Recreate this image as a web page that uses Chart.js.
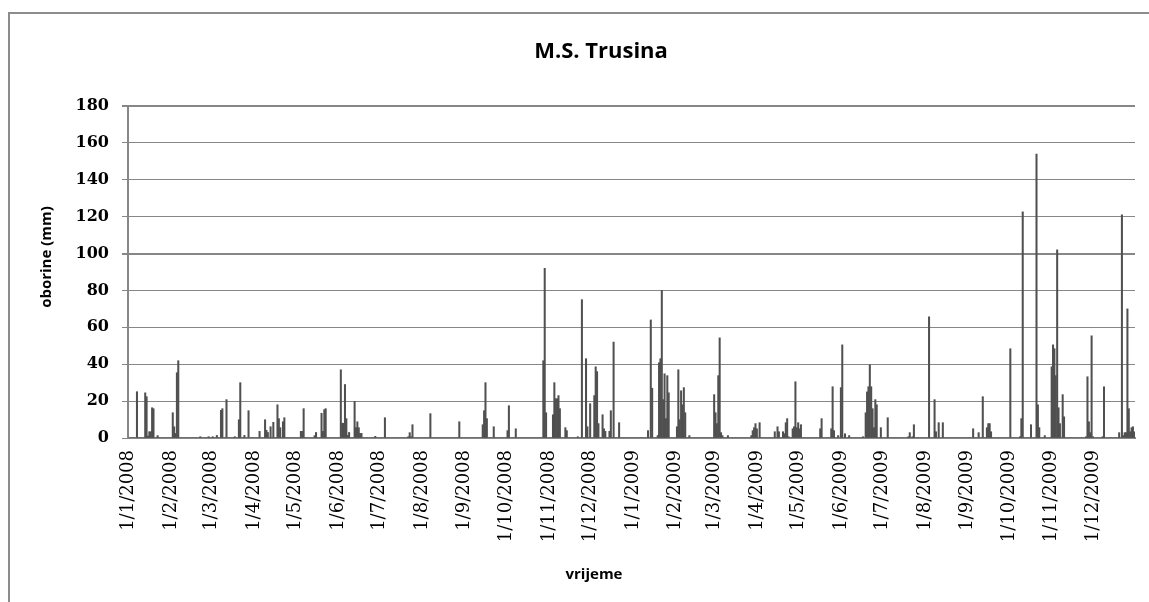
<!DOCTYPE html>
<html>
<head>
<meta charset="utf-8">
<title>M.S. Trusina – dnevne oborine 2008–2009</title>
<script src="https://cdn.jsdelivr.net/npm/chart.js@4.4.1/dist/chart.umd.min.js"></script>
<style>
  html, body { margin: 0; padding: 0; background: #ffffff; }
  canvas { display: block; }
</style>
</head>
<body>
<canvas id="chart" width="1149" height="602"></canvas>
<script>
// ---- text ----
const chartTitle = 'M.S. Trusina';
const yAxisTitle = 'oborine (mm)';
const xAxisTitle = 'vrijeme';

// ---- observation period (one bar per day) ----
const periodStart = '2008-01-01';
const periodEnd = '2009-12-31';

// ---- axis ticks ----
const monthTicks = [
  '1/1/2008', '1/2/2008', '1/3/2008', '1/4/2008', '1/5/2008', '1/6/2008',
  '1/7/2008', '1/8/2008', '1/9/2008', '1/10/2008', '1/11/2008', '1/12/2008',
  '1/1/2009', '1/2/2009', '1/3/2009', '1/4/2009', '1/5/2009', '1/6/2009',
  '1/7/2009', '1/8/2009', '1/9/2009', '1/10/2009', '1/11/2009', '1/12/2009'
];
const yTicks = [0, 20, 40, 60, 80, 100, 120, 140, 160, 180];

// ---- days with precipitation, 2008 (all other days: 0 mm) ----
const wetDays2008 = [
  '2008-01-07', '2008-01-13', '2008-01-14', '2008-01-15', '2008-01-16', '2008-01-17', '2008-01-18', '2008-01-19', '2008-01-22',
  '2008-02-02', '2008-02-03', '2008-02-04', '2008-02-05', '2008-02-06', '2008-02-22', '2008-02-28',
  '2008-03-02', '2008-03-05', '2008-03-08', '2008-03-09', '2008-03-12', '2008-03-18', '2008-03-21', '2008-03-22', '2008-03-25', '2008-03-28',
  '2008-04-05', '2008-04-09', '2008-04-10', '2008-04-11', '2008-04-13', '2008-04-15', '2008-04-18', '2008-04-19', '2008-04-20', '2008-04-22', '2008-04-23',
  '2008-05-05', '2008-05-06', '2008-05-07', '2008-05-15', '2008-05-16', '2008-05-20', '2008-05-21', '2008-05-22', '2008-05-23',
  '2008-06-03', '2008-06-04', '2008-06-05', '2008-06-06', '2008-06-07', '2008-06-08', '2008-06-09', '2008-06-13', '2008-06-14', '2008-06-15', '2008-06-16', '2008-06-17', '2008-06-18', '2008-06-28',
  '2008-07-05', '2008-07-22', '2008-07-23', '2008-07-24', '2008-07-25',
  '2008-08-07', '2008-08-28',
  '2008-09-14', '2008-09-15', '2008-09-16', '2008-09-17', '2008-09-22',
  '2008-10-02', '2008-10-03', '2008-10-08', '2008-10-28', '2008-10-29', '2008-10-30',
  '2008-11-04', '2008-11-05', '2008-11-06', '2008-11-07', '2008-11-08', '2008-11-09', '2008-11-13', '2008-11-14', '2008-11-22', '2008-11-25', '2008-11-28', '2008-11-29',
  '2008-12-01', '2008-12-04', '2008-12-05', '2008-12-06', '2008-12-07', '2008-12-10', '2008-12-11', '2008-12-12', '2008-12-15', '2008-12-16', '2008-12-18', '2008-12-22'
];
const wetMm2008 = [
  25.1, 24.5, 22.4, 1.0, 3.4, 3.4, 16.4, 15.9, 1.3,
  13.7, 6.1, 2.5, 35.4, 41.9, 0.7, 0.7,
  0.7, 1.4, 15.0, 15.9, 20.8, 0.7, 9.9, 30.0, 1.4, 14.8,
  3.6, 9.9, 4.2, 3.0, 6.1, 8.5, 18.0, 10.5, 5.6, 8.8, 11.0,
  3.6, 3.6, 15.9, 1.3, 3.0, 13.4, 3.6, 15.4, 15.9,
  37.0, 8.0, 8.0, 29.0, 10.5, 1.4, 3.0, 19.9, 5.6, 8.8, 5.6, 2.5, 2.5, 0.9,
  11.0, 0.7, 2.9, 0.7, 7.2,
  13.2, 8.8,
  7.2, 14.8, 30.0, 10.5, 6.1,
  4.0, 17.5, 5.0, 41.9, 92.0, 13.7,
  12.6, 30.0, 21.3, 21.3, 23.0, 15.9, 5.6, 4.0, 0.7, 75.0, 43.0, 6.1,
  18.6, 23.0, 38.6, 36.0, 7.8, 12.6, 5.0, 3.6, 3.6, 14.8, 52.0, 8.3
];

// ---- days with precipitation, 2009 ----
const wetDays2009 = [
  '2009-01-12', '2009-01-14', '2009-01-15', '2009-01-19', '2009-01-20', '2009-01-21', '2009-01-22', '2009-01-23', '2009-01-24', '2009-01-25', '2009-01-26', '2009-01-27',
  '2009-02-02', '2009-02-03', '2009-02-04', '2009-02-05', '2009-02-06', '2009-02-07', '2009-02-08', '2009-02-11',
  '2009-03-01', '2009-03-02', '2009-03-03', '2009-03-04', '2009-03-05', '2009-03-06', '2009-03-07', '2009-03-11', '2009-03-28', '2009-03-29', '2009-03-30', '2009-03-31',
  '2009-04-01', '2009-04-03', '2009-04-14', '2009-04-16', '2009-04-17', '2009-04-20', '2009-04-21', '2009-04-22', '2009-04-23', '2009-04-24', '2009-04-27', '2009-04-28', '2009-04-29', '2009-04-30',
  '2009-05-01', '2009-05-02', '2009-05-03', '2009-05-17', '2009-05-18', '2009-05-25', '2009-05-26', '2009-05-27', '2009-05-30',
  '2009-06-01', '2009-06-02', '2009-06-04', '2009-06-07', '2009-06-17', '2009-06-19', '2009-06-20', '2009-06-21', '2009-06-22', '2009-06-23', '2009-06-24', '2009-06-25', '2009-06-26', '2009-06-27', '2009-06-30',
  '2009-07-05', '2009-07-20', '2009-07-21', '2009-07-23', '2009-07-24',
  '2009-08-04', '2009-08-08', '2009-08-09', '2009-08-11', '2009-08-14',
  '2009-09-05', '2009-09-09', '2009-09-12', '2009-09-15', '2009-09-16', '2009-09-17', '2009-09-18',
  '2009-10-02', '2009-10-09', '2009-10-10', '2009-10-11', '2009-10-17', '2009-10-21', '2009-10-22', '2009-10-23', '2009-10-27',
  '2009-11-01', '2009-11-02', '2009-11-03', '2009-11-04', '2009-11-05', '2009-11-06', '2009-11-07', '2009-11-09', '2009-11-10', '2009-11-26', '2009-11-27', '2009-11-28', '2009-11-29', '2009-11-30',
  '2009-12-01', '2009-12-08', '2009-12-09', '2009-12-20', '2009-12-22', '2009-12-23', '2009-12-24', '2009-12-25', '2009-12-26', '2009-12-27', '2009-12-28', '2009-12-29', '2009-12-30', '2009-12-31'
];
const wetMm2009 = [
  4.0, 64.0, 27.0, 1.3, 40.8, 43.0, 80.0, 20.8, 34.8, 10.5, 33.8, 24.5,
  6.1, 37.0, 9.9, 25.6, 18.0, 27.3, 13.7, 1.3,
  23.5, 13.7, 7.8, 33.8, 54.3, 2.9, 1.3, 1.3, 1.3, 4.0, 5.6, 7.8,
  5.0, 8.3, 3.4, 6.1, 3.4, 3.4, 2.3, 8.3, 10.5, 0.7, 5.0, 6.1, 30.5, 5.6,
  8.3, 5.0, 7.2, 5.0, 10.5, 5.0, 27.8, 4.0, 1.3,
  27.3, 50.5, 2.3, 1.3, 0.7, 13.7, 25.0, 27.8, 39.7, 27.8, 15.9, 5.6, 20.8, 18.0, 5.6,
  11.0, 0.7, 2.9, 0.7, 7.2,
  65.7, 20.8, 3.4, 8.3, 8.3,
  5.0, 2.9, 22.4, 5.6, 7.8, 7.8, 3.4,
  48.4, 0.7, 10.5, 122.6, 7.2, 154.0, 18.0, 5.6, 1.3,
  38.6, 50.5, 48.4, 33.8, 102.0, 16.4, 7.8, 23.5, 11.5, 0.7, 33.2, 8.8, 2.9, 55.4,
  0.7, 0.7, 27.8, 2.9, 121.0, 1.3, 2.9, 2.9, 70.0, 15.9, 3.4, 5.6, 6.1, 3.4
];

// ---- daily category table built from the lists above ----
const wetByDate = new Map();
wetDays2008.forEach((d, i) => wetByDate.set(d, wetMm2008[i]));
wetDays2009.forEach((d, i) => wetByDate.set(d, wetMm2009[i]));

const dayLabels = [];
const dailyMm = [];
for (let t = new Date(periodStart + 'T00:00:00Z'); t <= new Date(periodEnd + 'T00:00:00Z'); t.setUTCDate(t.getUTCDate() + 1)) {
  const iso = t.toISOString().slice(0, 10);
  dayLabels.push(t.getUTCDate() + '/' + (t.getUTCMonth() + 1) + '/' + t.getUTCFullYear());
  dailyMm.push(wetByDate.has(iso) ? wetByDate.get(iso) : 0);
}

// ---- styling ----
const axisGray = '#878787';
const barGray = '#505050';

// frame around the chart object and the three title texts
const decorations = {
  id: 'decorations',
  beforeDraw(chart) {
    const c = chart.ctx;
    c.save();
    c.fillStyle = '#ffffff';
    c.fillRect(0, 0, chart.width, chart.height);
    c.strokeStyle = '#8c8c8c';
    c.lineWidth = 2;
    c.beginPath();
    c.moveTo(9, chart.height + 2);
    c.lineTo(9, 13);
    c.lineTo(chart.width + 2, 13);
    c.stroke();
    c.restore();
  },
  afterDraw(chart) {
    const c = chart.ctx;
    c.save();
    c.fillStyle = '#000000';
    c.textAlign = 'center';
    c.textBaseline = 'alphabetic';
    c.font = 'bold 22px "Open Sans"';
    c.fillText(chartTitle, 601, 58);
    c.font = 'bold 15px "Open Sans"';
    c.fillText(xAxisTitle, 594, 579);
    c.translate(47, 257);
    c.rotate(-Math.PI / 2);
    c.textBaseline = 'middle';
    c.fillText(yAxisTitle, 0, 0);
    c.restore();
  }
};

new Chart(document.getElementById('chart'), {
  type: 'bar',
  data: {
    labels: dayLabels,
    datasets: [{
      label: 'oborine',
      data: dailyMm,
      backgroundColor: barGray,
      borderWidth: 0,
      barPercentage: 1.0,
      categoryPercentage: 1.0
    }]
  },
  options: {
    responsive: false,
    animation: false,
    layout: { padding: { top: 106, right: 14, bottom: 0, left: 0 } },
    plugins: {
      legend: { display: false },
      title: { display: false },
      tooltip: { enabled: false }
    },
    scales: {
      x: {
        grid: { display: false, drawTicks: false },
        border: { display: true, color: axisGray, width: 2 },
        ticks: {
          autoSkip: false,
          minRotation: 90,
          maxRotation: 90,
          padding: 12,
          color: '#000000',
          font: { family: '"DejaVu Serif"', size: 18 },
          callback(value) {
            const lbl = this.getLabelForValue(value);
            return monthTicks.includes(lbl) ? lbl : '';
          }
        },
        afterFit(scale) {
          scale.height = 164;
          scale.paddingLeft = 0;
          scale.paddingRight = 0;
        }
      },
      y: {
        min: 0,
        max: 180,
        afterBuildTicks(scale) { scale.ticks = yTicks.map(v => ({ value: v })); },
        ticks: {
          padding: 13,
          color: '#000000',
          font: { family: '"DejaVu Serif"', size: 16, weight: 'bold' }
        },
        grid: {
          color: axisGray,
          lineWidth: ctx => (ctx.tick && (ctx.tick.value === 180 || ctx.tick.value === 100)) ? 2 : 1,
          drawTicks: true,
          tickLength: 6,
          tickColor: axisGray
        },
        border: { color: axisGray, width: 2 },
        afterFit(scale) {
          scale.width = 128;
          scale.paddingTop = 0;
          scale.paddingBottom = 0;
        }
      }
    }
  },
  plugins: [decorations]
});
</script>
</body>
</html>
